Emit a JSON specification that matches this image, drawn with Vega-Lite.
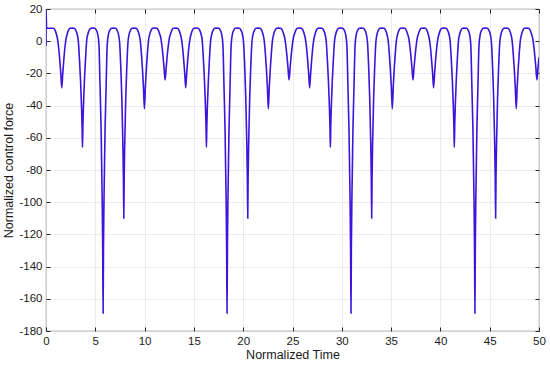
{
"$schema": "https://vega.github.io/schema/vega-lite/v6.json",
"width": 493, "height": 322,
"autosize": {"type": "none"},
"padding": {"left": 46, "top": 9, "right": 11, "bottom": 34},
"background": "white",
"config": {"view": {"stroke": "#3a3a3a", "strokeWidth": 0.8}, "font": "Liberation Sans"},
"data": {"values": [
{"t":0,"v":-3},{"t":0.01,"v":19},{"t":0.06,"v":8},
{"t":0.75,"v":8},{"t":0.90,"v":7},{"t":1.05,"v":4.5},{"t":1.18,"v":1},{"t":1.30,"v":-5},{"t":1.40,"v":-12},{"t":1.50,"v":-20},{"t":1.60,"v":-29},{"t":1.70,"v":-20},{"t":1.80,"v":-12},{"t":1.90,"v":-5},{"t":2.02,"v":1},{"t":2.15,"v":4.5},{"t":2.30,"v":7},{"t":2.45,"v":8},{"t":2.65,"v":8.1},
{"t":2.85,"v":8},{"t":3.00,"v":7},{"t":3.15,"v":4.5},{"t":3.28,"v":0},{"t":3.40,"v":-12},{"t":3.50,"v":-24},{"t":3.60,"v":-40},{"t":3.66,"v":-53},{"t":3.70,"v":-66},{"t":3.74,"v":-53},{"t":3.80,"v":-40},{"t":3.90,"v":-24},{"t":4.00,"v":-12},{"t":4.12,"v":0},{"t":4.25,"v":4.5},{"t":4.40,"v":7},{"t":4.55,"v":8},{"t":4.75,"v":8.1},
{"t":4.94,"v":8},{"t":5.09,"v":7},{"t":5.24,"v":4.5},{"t":5.37,"v":-2},{"t":5.49,"v":-30},{"t":5.59,"v":-55},{"t":5.69,"v":-95},{"t":5.75,"v":-128},{"t":5.79,"v":-169},{"t":5.83,"v":-128},{"t":5.89,"v":-95},{"t":5.99,"v":-55},{"t":6.09,"v":-30},{"t":6.21,"v":-2},{"t":6.34,"v":4.5},{"t":6.49,"v":7},{"t":6.64,"v":8},{"t":6.84,"v":8.1},
{"t":7.04,"v":8},{"t":7.19,"v":7},{"t":7.34,"v":4.5},{"t":7.47,"v":-1},{"t":7.59,"v":-17},{"t":7.69,"v":-35},{"t":7.79,"v":-62},{"t":7.85,"v":-84},{"t":7.89,"v":-110},{"t":7.93,"v":-84},{"t":7.99,"v":-62},{"t":8.09,"v":-35},{"t":8.19,"v":-17},{"t":8.31,"v":-1},{"t":8.44,"v":4.5},{"t":8.59,"v":7},{"t":8.74,"v":8},{"t":8.94,"v":8.1},
{"t":9.13,"v":8},{"t":9.28,"v":7},{"t":9.43,"v":4.5},{"t":9.56,"v":0.5},{"t":9.68,"v":-8},{"t":9.78,"v":-17},{"t":9.88,"v":-28},{"t":9.98,"v":-42},{"t":10.08,"v":-28},{"t":10.18,"v":-17},{"t":10.28,"v":-8},{"t":10.40,"v":0.5},{"t":10.53,"v":4.5},{"t":10.68,"v":7},{"t":10.83,"v":8},{"t":11.03,"v":8.1},
{"t":11.23,"v":8},{"t":11.38,"v":7},{"t":11.53,"v":4.5},{"t":11.66,"v":1.5},{"t":11.78,"v":-4},{"t":11.88,"v":-10},{"t":11.98,"v":-17},{"t":12.08,"v":-24},{"t":12.18,"v":-17},{"t":12.28,"v":-10},{"t":12.38,"v":-4},{"t":12.50,"v":1.5},{"t":12.63,"v":4.5},{"t":12.78,"v":7},{"t":12.93,"v":8},{"t":13.13,"v":8.1},
{"t":13.32,"v":8},{"t":13.47,"v":7},{"t":13.62,"v":4.5},{"t":13.75,"v":1},{"t":13.87,"v":-5},{"t":13.97,"v":-12},{"t":14.07,"v":-20},{"t":14.17,"v":-29},{"t":14.27,"v":-20},{"t":14.37,"v":-12},{"t":14.47,"v":-5},{"t":14.59,"v":1},{"t":14.72,"v":4.5},{"t":14.87,"v":7},{"t":15.02,"v":8},{"t":15.22,"v":8.1},
{"t":15.42,"v":8},{"t":15.57,"v":7},{"t":15.72,"v":4.5},{"t":15.85,"v":0},{"t":15.97,"v":-12},{"t":16.07,"v":-24},{"t":16.17,"v":-40},{"t":16.23,"v":-53},{"t":16.27,"v":-66},{"t":16.31,"v":-53},{"t":16.37,"v":-40},{"t":16.47,"v":-24},{"t":16.57,"v":-12},{"t":16.69,"v":0},{"t":16.82,"v":4.5},{"t":16.97,"v":7},{"t":17.12,"v":8},{"t":17.32,"v":8.1},
{"t":17.51,"v":8},{"t":17.66,"v":7},{"t":17.81,"v":4.5},{"t":17.94,"v":-2},{"t":18.06,"v":-30},{"t":18.16,"v":-55},{"t":18.26,"v":-95},{"t":18.32,"v":-128},{"t":18.36,"v":-169},{"t":18.40,"v":-128},{"t":18.46,"v":-95},{"t":18.56,"v":-55},{"t":18.66,"v":-30},{"t":18.78,"v":-2},{"t":18.91,"v":4.5},{"t":19.06,"v":7},{"t":19.21,"v":8},{"t":19.41,"v":8.1},
{"t":19.61,"v":8},{"t":19.76,"v":7},{"t":19.91,"v":4.5},{"t":20.04,"v":-1},{"t":20.16,"v":-17},{"t":20.26,"v":-35},{"t":20.36,"v":-62},{"t":20.42,"v":-84},{"t":20.46,"v":-110},{"t":20.50,"v":-84},{"t":20.56,"v":-62},{"t":20.66,"v":-35},{"t":20.76,"v":-17},{"t":20.88,"v":-1},{"t":21.01,"v":4.5},{"t":21.16,"v":7},{"t":21.31,"v":8},{"t":21.51,"v":8.1},
{"t":21.70,"v":8},{"t":21.85,"v":7},{"t":22.00,"v":4.5},{"t":22.13,"v":0.5},{"t":22.25,"v":-8},{"t":22.35,"v":-17},{"t":22.45,"v":-28},{"t":22.55,"v":-42},{"t":22.65,"v":-28},{"t":22.75,"v":-17},{"t":22.85,"v":-8},{"t":22.97,"v":0.5},{"t":23.10,"v":4.5},{"t":23.25,"v":7},{"t":23.40,"v":8},{"t":23.60,"v":8.1},
{"t":23.80,"v":8},{"t":23.95,"v":7},{"t":24.10,"v":4.5},{"t":24.23,"v":1.5},{"t":24.35,"v":-4},{"t":24.45,"v":-10},{"t":24.55,"v":-17},{"t":24.65,"v":-24},{"t":24.75,"v":-17},{"t":24.85,"v":-10},{"t":24.95,"v":-4},{"t":25.07,"v":1.5},{"t":25.20,"v":4.5},{"t":25.35,"v":7},{"t":25.50,"v":8},{"t":25.70,"v":8.1},
{"t":25.89,"v":8},{"t":26.04,"v":7},{"t":26.19,"v":4.5},{"t":26.32,"v":1},{"t":26.44,"v":-5},{"t":26.54,"v":-12},{"t":26.64,"v":-20},{"t":26.74,"v":-29},{"t":26.84,"v":-20},{"t":26.94,"v":-12},{"t":27.04,"v":-5},{"t":27.16,"v":1},{"t":27.29,"v":4.5},{"t":27.44,"v":7},{"t":27.59,"v":8},{"t":27.79,"v":8.1},
{"t":27.99,"v":8},{"t":28.14,"v":7},{"t":28.29,"v":4.5},{"t":28.42,"v":0},{"t":28.54,"v":-12},{"t":28.64,"v":-24},{"t":28.74,"v":-40},{"t":28.80,"v":-53},{"t":28.84,"v":-66},{"t":28.88,"v":-53},{"t":28.94,"v":-40},{"t":29.04,"v":-24},{"t":29.14,"v":-12},{"t":29.26,"v":0},{"t":29.39,"v":4.5},{"t":29.54,"v":7},{"t":29.69,"v":8},{"t":29.89,"v":8.1},
{"t":30.08,"v":8},{"t":30.23,"v":7},{"t":30.38,"v":4.5},{"t":30.51,"v":-2},{"t":30.63,"v":-30},{"t":30.73,"v":-55},{"t":30.83,"v":-95},{"t":30.89,"v":-128},{"t":30.93,"v":-169},{"t":30.97,"v":-128},{"t":31.03,"v":-95},{"t":31.13,"v":-55},{"t":31.23,"v":-30},{"t":31.35,"v":-2},{"t":31.48,"v":4.5},{"t":31.63,"v":7},{"t":31.78,"v":8},{"t":31.98,"v":8.1},
{"t":32.18,"v":8},{"t":32.33,"v":7},{"t":32.48,"v":4.5},{"t":32.61,"v":-1},{"t":32.73,"v":-17},{"t":32.83,"v":-35},{"t":32.93,"v":-62},{"t":32.99,"v":-84},{"t":33.03,"v":-110},{"t":33.07,"v":-84},{"t":33.13,"v":-62},{"t":33.23,"v":-35},{"t":33.33,"v":-17},{"t":33.45,"v":-1},{"t":33.58,"v":4.5},{"t":33.73,"v":7},{"t":33.88,"v":8},{"t":34.08,"v":8.1},
{"t":34.27,"v":8},{"t":34.42,"v":7},{"t":34.57,"v":4.5},{"t":34.70,"v":0.5},{"t":34.82,"v":-8},{"t":34.92,"v":-17},{"t":35.02,"v":-28},{"t":35.12,"v":-42},{"t":35.22,"v":-28},{"t":35.32,"v":-17},{"t":35.42,"v":-8},{"t":35.54,"v":0.5},{"t":35.67,"v":4.5},{"t":35.82,"v":7},{"t":35.97,"v":8},{"t":36.17,"v":8.1},
{"t":36.37,"v":8},{"t":36.52,"v":7},{"t":36.67,"v":4.5},{"t":36.80,"v":1.5},{"t":36.92,"v":-4},{"t":37.02,"v":-10},{"t":37.12,"v":-17},{"t":37.22,"v":-24},{"t":37.32,"v":-17},{"t":37.42,"v":-10},{"t":37.52,"v":-4},{"t":37.64,"v":1.5},{"t":37.77,"v":4.5},{"t":37.92,"v":7},{"t":38.07,"v":8},{"t":38.27,"v":8.1},
{"t":38.46,"v":8},{"t":38.61,"v":7},{"t":38.76,"v":4.5},{"t":38.89,"v":1},{"t":39.01,"v":-5},{"t":39.11,"v":-12},{"t":39.21,"v":-20},{"t":39.31,"v":-29},{"t":39.41,"v":-20},{"t":39.51,"v":-12},{"t":39.61,"v":-5},{"t":39.73,"v":1},{"t":39.86,"v":4.5},{"t":40.01,"v":7},{"t":40.16,"v":8},{"t":40.36,"v":8.1},
{"t":40.56,"v":8},{"t":40.71,"v":7},{"t":40.86,"v":4.5},{"t":40.99,"v":0},{"t":41.11,"v":-12},{"t":41.21,"v":-24},{"t":41.31,"v":-40},{"t":41.37,"v":-53},{"t":41.41,"v":-66},{"t":41.45,"v":-53},{"t":41.51,"v":-40},{"t":41.61,"v":-24},{"t":41.71,"v":-12},{"t":41.83,"v":0},{"t":41.96,"v":4.5},{"t":42.11,"v":7},{"t":42.26,"v":8},{"t":42.46,"v":8.1},
{"t":42.65,"v":8},{"t":42.80,"v":7},{"t":42.95,"v":4.5},{"t":43.08,"v":-2},{"t":43.20,"v":-30},{"t":43.30,"v":-55},{"t":43.40,"v":-95},{"t":43.46,"v":-128},{"t":43.50,"v":-169},{"t":43.54,"v":-128},{"t":43.60,"v":-95},{"t":43.70,"v":-55},{"t":43.80,"v":-30},{"t":43.92,"v":-2},{"t":44.05,"v":4.5},{"t":44.20,"v":7},{"t":44.35,"v":8},{"t":44.55,"v":8.1},
{"t":44.75,"v":8},{"t":44.90,"v":7},{"t":45.05,"v":4.5},{"t":45.18,"v":-1},{"t":45.30,"v":-17},{"t":45.40,"v":-35},{"t":45.50,"v":-62},{"t":45.56,"v":-84},{"t":45.60,"v":-110},{"t":45.64,"v":-84},{"t":45.70,"v":-62},{"t":45.80,"v":-35},{"t":45.90,"v":-17},{"t":46.02,"v":-1},{"t":46.15,"v":4.5},{"t":46.30,"v":7},{"t":46.45,"v":8},{"t":46.65,"v":8.1},
{"t":46.84,"v":8},{"t":46.99,"v":7},{"t":47.14,"v":4.5},{"t":47.27,"v":0.5},{"t":47.39,"v":-8},{"t":47.49,"v":-17},{"t":47.59,"v":-28},{"t":47.69,"v":-42},{"t":47.79,"v":-28},{"t":47.89,"v":-17},{"t":47.99,"v":-8},{"t":48.11,"v":0.5},{"t":48.24,"v":4.5},{"t":48.39,"v":7},{"t":48.54,"v":8},{"t":48.74,"v":8.1},
{"t":48.94,"v":8},{"t":49.09,"v":7},{"t":49.24,"v":4.5},{"t":49.37,"v":1.5},{"t":49.49,"v":-4},{"t":49.59,"v":-10},{"t":49.69,"v":-17},{"t":49.79,"v":-24},{"t":49.89,"v":-17},{"t":50.00,"v":-10}
]},
"layer": [
{
"mark": {"type": "line", "opacity": 0, "clip": true},
"encoding": {
"x": {"field": "t", "type": "quantitative", "scale": {"domain": [0, 50], "nice": false, "zero": false},
"axis": {"orient": "top", "labels": false, "title": null, "grid": false, "domain": false, "ticks": true, "tickSize": -4, "tickColor": "#262626", "values": [0,5,10,15,20,25,30,35,40,45,50]}},
"y": {"field": "v", "type": "quantitative", "scale": {"domain": [-180, 20], "nice": false, "zero": false},
"axis": {"orient": "right", "labels": false, "title": null, "grid": false, "domain": false, "ticks": true, "tickSize": -4, "tickColor": "#262626", "values": [-180,-160,-140,-120,-100,-80,-60,-40,-20,0,20]}}
}
},
{
"mark": {"type": "line", "color": "#3c14dc", "strokeWidth": 1.6, "interpolate": "monotone", "clip": true},
"encoding": {
"x": {"field": "t", "type": "quantitative", "scale": {"domain": [0, 50], "nice": false, "zero": false},
"axis": {"orient": "bottom", "title": "Normalized Time", "titleFontSize": 12.5, "titleFontWeight": "normal", "titleColor": "#1a1a1a", "titlePadding": 2,
"grid": true, "gridColor": "#e6e6e6", "gridWidth": 0.8, "domain": false, "ticks": true, "tickSize": -4, "tickColor": "#262626",
"labelFontSize": 11.5, "labelColor": "#1a1a1a", "labelPadding": 8, "labelFlush": false, "labelOverlap": false, "labelExpr": "toString(datum.value)",
"values": [0,5,10,15,20,25,30,35,40,45,50]}},
"y": {"field": "v", "type": "quantitative", "scale": {"domain": [-180, 20], "nice": false, "zero": false},
"axis": {"orient": "left", "title": "Normalized control force", "titleFontSize": 12.5, "titleFontWeight": "normal", "titleColor": "#1a1a1a", "titlePadding": 3,
"grid": true, "gridColor": "#e6e6e6", "gridWidth": 0.8, "domain": false, "ticks": true, "tickSize": -4, "tickColor": "#262626",
"labelFontSize": 11.5, "labelColor": "#1a1a1a", "labelPadding": 8, "labelFlush": false, "labelOverlap": false, "labelExpr": "toString(datum.value)",
"values": [-180,-160,-140,-120,-100,-80,-60,-40,-20,0,20]}}
}
}
],
"resolve": {"axis": {"x": "independent", "y": "independent"}}
}
